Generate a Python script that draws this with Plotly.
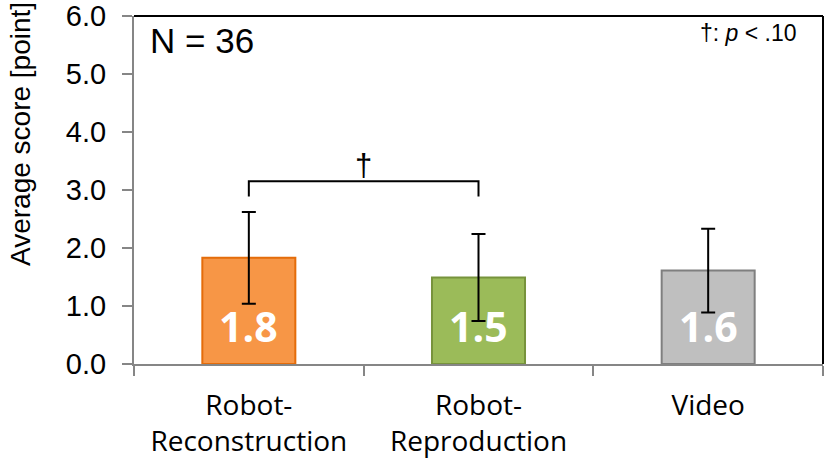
import plotly.graph_objects as go

conditions = ["Robot-<br>Reconstruction", "Robot-<br>Reproduction", "Video"]
means = [1.83, 1.49, 1.61]
sds = [0.79, 0.75, 0.72]
labels = ["1.8", "1.5", "1.6"]
fills = ["#F79646", "#9BBB59", "#BFBFBF"]
edges = ["#E46C0A", "#77933C", "#7F7F7F"]

# bracket between first two conditions, marked with a dagger
bracket_x = [0, 0, 1, 1]
bracket_y = [2.89, 3.15, 3.15, 2.89]

xpos = list(range(len(conditions)))

fig = go.Figure()
fig.add_trace(go.Bar(
    x=xpos, y=means, width=0.405,
    marker=dict(color=fills, line=dict(color=edges, width=2)),
    error_y=dict(type="data", array=sds, color="black", thickness=2, width=7),
    hoverinfo="skip",
))
fig.add_trace(go.Scatter(
    x=bracket_x, y=bracket_y, mode="lines",
    line=dict(color="black", width=2), hoverinfo="skip",
))

# values printed inside the bars
for i, lab in enumerate(labels):
    fig.add_annotation(x=i, y=0.65, text=lab, showarrow=False,
                       font=dict(family="Open Sans", size=41, color="white", weight="bold"))

fig.add_annotation(x=0.5, y=3.42, text="†", showarrow=False,
                   font=dict(family="Liberation Sans", size=31, color="black"))
fig.add_annotation(xref="paper", yref="paper", x=0, y=0.931, xshift=14,
                   xanchor="left", yanchor="middle", text="N = 36", showarrow=False,
                   font=dict(family="Liberation Sans", size=35, color="black"))
fig.add_annotation(xref="paper", yref="paper", x=0.965, y=0.951,
                   xanchor="right", yanchor="middle", text="†: <i>p</i> &lt; .10",
                   showarrow=False,
                   font=dict(family="Liberation Sans", size=23, color="black"))
fig.add_annotation(xref="paper", yref="paper", x=0, y=0.661, xshift=-113,
                   xanchor="center", yanchor="middle", textangle=-90,
                   text="Average score [point]", showarrow=False,
                   font=dict(family="Liberation Sans", size=28, color="black"))

# black frame on top and right of the plot area
fig.add_shape(type="line", xref="x domain", yref="y domain", x0=0, x1=1, y0=1, y1=1,
              line=dict(color="black", width=2))
fig.add_shape(type="line", xref="x domain", yref="y domain", x0=1, x1=1, y0=0, y1=1,
              line=dict(color="black", width=2))

fig.update_layout(
    width=826, height=463,
    margin=dict(l=134, r=3, t=16, b=99),
    plot_bgcolor="white", paper_bgcolor="white",
    showlegend=False,
    font=dict(family="Open Sans", color="black"),
)
fig.update_xaxes(
    range=[-0.5, 2.5], tickvals=xpos, ticktext=conditions, ticks="",
    tickfont=dict(family="Open Sans", size=28), ticklabelstandoff=15,
    showline=True, linecolor="#868686", linewidth=2, showgrid=False, zeroline=False,
    automargin=False,
    minor=dict(tick0=0.5, dtick=1, ticks="outside", ticklen=10, tickwidth=2,
               tickcolor="#868686", showgrid=False),
)
fig.update_yaxes(
    range=[0, 6], dtick=1, tickformat=".1f", ticks="outside", ticklen=10, tickwidth=2,
    tickcolor="#868686", tickfont=dict(family="Liberation Sans", size=29),
    ticklabelstandoff=10, ticklabeloverflow="allow",
    showline=True, linecolor="#868686", linewidth=2, showgrid=False, zeroline=False,
    automargin=False,
)

# the page body has a default 8px margin; drop it so the figure fills the window
fig.write_html("out.html", config={"displayModeBar": False},
               post_script="document.body.style.margin='0';")
